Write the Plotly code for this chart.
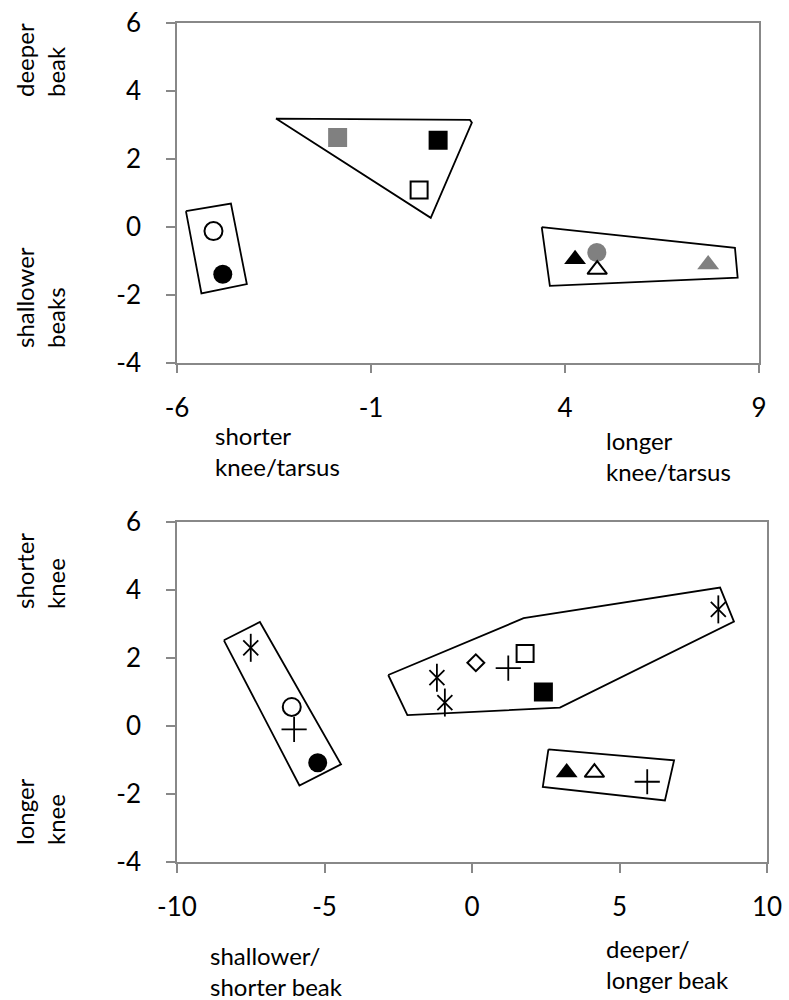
import plotly.graph_objects as go

# ---------------- data: top chart (knee/tarsus vs beak depth) ----------------
top_x_ticks = [-6, -1, 4, 9]
top_y_ticks = [-4, -2, 0, 2, 4, 6]

top_open_circle_x = [-5.06]; top_open_circle_y = [-0.13]
top_black_circle_x = [-4.82]; top_black_circle_y = [-1.40]
top_grey_circle_x = [4.82]; top_grey_circle_y = [-0.76]
top_grey_square_x = [-1.86]; top_grey_square_y = [2.62]
top_black_square_x = [0.73]; top_black_square_y = [2.54]
top_open_square_x = [0.24]; top_open_square_y = [1.08]
top_black_tri_x = [4.26]; top_black_tri_y = [-0.96]
top_open_tri_x = [4.83]; top_open_tri_y = [-1.26]
top_grey_tri_x = [7.69]; top_grey_tri_y = [-1.11]

top_poly1_x = [-5.77, -4.61, -4.20, -5.37, -5.77]
top_poly1_y = [0.46, 0.68, -1.69, -1.96, 0.46]
top_poly2_x = [-3.45, 1.55, 1.60, 0.54, -3.45]
top_poly2_y = [3.18, 3.14, 3.06, 0.26, 3.18]
top_poly3_x = [3.40, 8.38, 8.45, 3.61, 3.40]
top_poly3_y = [-0.01, -0.62, -1.50, -1.74, -0.01]

# ---------------- data: bottom chart (beak vs knee) ----------------
bot_x_ticks = [-10, -5, 0, 5, 10]
bot_y_ticks = [-4, -2, 0, 2, 4, 6]

bot_star_x = [-7.50, -1.19, -0.92, 8.35]; bot_star_y = [2.30, 1.42, 0.69, 3.43]
bot_open_circle_x = [-6.11]; bot_open_circle_y = [0.56]
bot_plus_x = [-6.03, 1.23, 5.94]; bot_plus_y = [-0.10, 1.70, -1.64]
bot_black_circle_x = [-5.23]; bot_black_circle_y = [-1.08]
bot_diamond_x = [0.13]; bot_diamond_y = [1.86]
bot_open_square_x = [1.80]; bot_open_square_y = [2.13]
bot_black_square_x = [2.42]; bot_black_square_y = [1.00]
bot_black_tri_x = [3.21]; bot_black_tri_y = [-1.37]
bot_open_tri_x = [4.15]; bot_open_tri_y = [-1.37]

bot_poly1_x = [-8.41, -7.19, -4.44, -5.85, -8.41]
bot_poly1_y = [2.52, 3.06, -1.13, -1.75, 2.52]
bot_poly2_x = [-2.84, 1.75, 8.41, 8.88, 2.98, -2.19, -2.84]
bot_poly2_y = [1.50, 3.17, 4.07, 3.07, 0.54, 0.32, 1.50]
bot_poly3_x = [2.59, 6.85, 6.54, 2.40, 2.59]
bot_poly3_y = [-0.69, -1.01, -2.19, -1.79, -0.69]

# ---------------- styling ----------------
FONT = "Lato"
GREY = "#808080"
AXIS = "#888888"
BLACK = "#000000"
LINEW = 1.8

fig = go.Figure()


def poly(x, y, ax):
    fig.add_trace(go.Scatter(x=x, y=y, mode="lines", line=dict(color=BLACK, width=LINEW),
                             xaxis=ax[0], yaxis=ax[1], hoverinfo="skip"))


def pts(x, y, ax, symbol, size, fill, line_color=BLACK, line_w=0):
    fig.add_trace(go.Scatter(x=x, y=y, mode="markers", xaxis=ax[0], yaxis=ax[1],
                             marker=dict(symbol=symbol, size=size, color=fill,
                                         line=dict(color=line_color, width=line_w))))


T = ("x", "y")
B = ("x2", "y2")

# top chart
poly(top_poly1_x, top_poly1_y, T)
poly(top_poly2_x, top_poly2_y, T)
poly(top_poly3_x, top_poly3_y, T)
pts(top_open_circle_x, top_open_circle_y, T, "circle", 18, "white", BLACK, 2)
pts(top_black_circle_x, top_black_circle_y, T, "circle", 19, BLACK)
pts(top_grey_circle_x, top_grey_circle_y, T, "circle", 19, GREY)
pts(top_grey_square_x, top_grey_square_y, T, "square", 19, GREY)
pts(top_black_square_x, top_black_square_y, T, "square", 19, BLACK)
pts(top_open_square_x, top_open_square_y, T, "square", 17, "white", BLACK, 2)
pts(top_black_tri_x, top_black_tri_y, T, "triangle-up", 19, BLACK)
pts(top_open_tri_x, top_open_tri_y, T, "triangle-up", 17, "white", BLACK, 2)
pts(top_grey_tri_x, top_grey_tri_y, T, "triangle-up", 19, GREY)

# bottom chart
poly(bot_poly1_x, bot_poly1_y, B)
poly(bot_poly2_x, bot_poly2_y, B)
poly(bot_poly3_x, bot_poly3_y, B)
pts(bot_star_x, bot_star_y, B, "x-thin-open", 15, BLACK, BLACK, 1.8)
pts(bot_star_x, bot_star_y, B, "line-ns-open", 20, BLACK, BLACK, 1.8)
pts(bot_open_circle_x, bot_open_circle_y, B, "circle", 18, "white", BLACK, 2)
pts(bot_plus_x, bot_plus_y, B, "cross-thin-open", 18, BLACK, BLACK, 1.8)
pts(bot_black_circle_x, bot_black_circle_y, B, "circle", 19, BLACK)
pts(bot_diamond_x, bot_diamond_y, B, "diamond", 13, "white", BLACK, 2)
pts(bot_open_square_x, bot_open_square_y, B, "square", 17, "white", BLACK, 2)
pts(bot_black_square_x, bot_black_square_y, B, "square", 19, BLACK)
pts(bot_black_tri_x, bot_black_tri_y, B, "triangle-up", 19, BLACK)
pts(bot_open_tri_x, bot_open_tri_y, B, "triangle-up", 17, "white", BLACK, 2)

W, H = 789, 1000


def xax(domain, rng, ticks, anchor):
    return dict(domain=domain, range=rng, tickvals=ticks, ticktext=[str(t) for t in ticks],
                showgrid=False, zeroline=False, showline=True, linecolor=AXIS, linewidth=1.5,
                mirror=True, ticks="outside", ticklen=9, tickwidth=1.5, tickcolor=AXIS,
                tickfont=dict(family=FONT, size=26, color=BLACK), ticklabelstandoff=12,
                anchor=anchor, fixedrange=True, automargin=False)


def yax(domain, rng, ticks, anchor):
    return dict(domain=domain, range=rng, tickvals=ticks, ticktext=[str(t) for t in ticks],
                showgrid=False, zeroline=False, showline=True, linecolor=AXIS, linewidth=1.5,
                mirror=True, ticks="outside", ticklen=9, tickwidth=1.5, tickcolor=AXIS,
                tickfont=dict(family=FONT, size=26, color=BLACK), ticklabelstandoff=20,
                anchor=anchor, fixedrange=True, automargin=False)


top_xd = [177 / W, 759 / W]
top_yd = [1 - 362.7 / H, 1 - 22.7 / H]
bot_xd = [177 / W, 767 / W]
bot_yd = [1 - 862 / H, 1 - 522 / H]

fig.update_layout(
    template="none",
    width=W, height=H,
    margin=dict(l=0, r=0, t=0, b=0, pad=0, autoexpand=False),
    paper_bgcolor="white", plot_bgcolor="white",
    showlegend=False,
    xaxis=xax(top_xd, [-6, 9], top_x_ticks, "y"),
    yaxis=yax(top_yd, [-4, 6], top_y_ticks, "x"),
    xaxis2=xax(bot_xd, [-10, 10], bot_x_ticks, "y2"),
    yaxis2=yax(bot_yd, [-4, 6], bot_y_ticks, "x2"),
    font=dict(family=FONT, color=BLACK),
)

LBL = dict(family=FONT, size=24, color=BLACK)


def note(text, xpx, ypx, xanchor="left", angle=0):
    fig.add_annotation(text=text, x=xpx / W, y=1 - ypx / H, xref="paper", yref="paper",
                       xanchor=xanchor, yanchor="middle", align="left", showarrow=False,
                       textangle=angle, font=LBL)


# axis direction labels
note("deeper<br>beak", 40, 60, "center", -90)
note("shallower<br>beaks", 40, 298, "center", -90)
note("shorter<br>knee", 40, 571, "center", -90)
note("longer<br>knee", 40, 812, "center", -90)
note("shorter<br>knee/tarsus", 213, 451)
note("longer<br>knee/tarsus", 604, 456)
note("shallower/<br>shorter beak", 208, 971)
note("deeper/<br>longer beak", 604, 964)

fig.write_html("out.html")
